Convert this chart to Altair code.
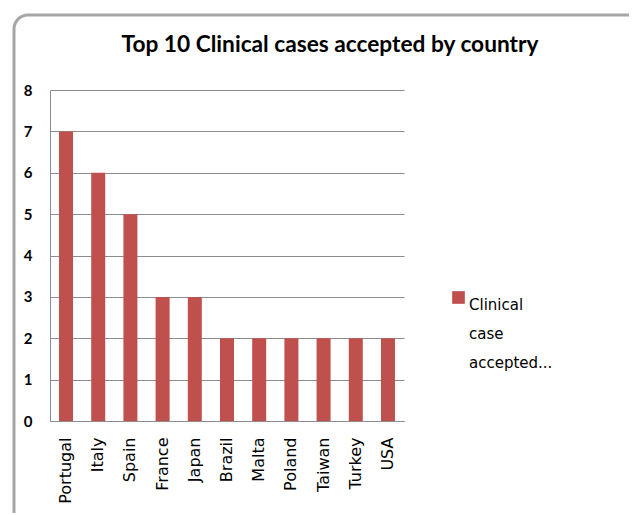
import altair as alt
import pandas as pd

countries = ["Portugal", "Italy", "Spain", "France", "Japan", "Brazil",
             "Malta", "Poland", "Taiwan", "Turkey", "USA"]
cases = [7, 6, 5, 3, 3, 2, 2, 2, 2, 2, 2]
series_name = "Clinical case accepted"
title_text = "Top 10 Clinical cases accepted by country"
y_ticks = [0, 1, 2, 3, 4, 5, 6, 7, 8]

df = pd.DataFrame({"country": countries, "cases": cases, "series": series_name})

frame = alt.Chart(pd.DataFrame({"k": [0]})).mark_rect(
    fill=None, stroke="#A6A6A6", strokeWidth=3, cornerRadius=14, clip=False
).encode(
    x=alt.value(-36), x2=alt.value(600),
    y=alt.value(-75), y2=alt.value(440),
)

bars = alt.Chart(df).mark_bar(color="#C0504D").encode(
    x=alt.X("country:N", sort=countries,
            scale=alt.Scale(paddingInner=0.565, paddingOuter=0.28),
            axis=alt.Axis(title=None, labelAngle=-90, labelAlign="right",
                          labelBaseline="middle", labelPadding=16, ticks=False,
                          domainColor="#8C8C8C", labelFont="DejaVu Sans",
                          labelFontSize=16, labelColor="#000000")),
    y=alt.Y("cases:Q", scale=alt.Scale(domain=[0, 8], nice=False),
            axis=alt.Axis(title=None, values=y_ticks, ticks=False,
                          labelPadding=18, grid=True, gridColor="#8C8C8C",
                          domainColor="#8C8C8C", labelFont="Lato",
                          labelFontWeight="bold", labelFontSize=15,
                          labelColor="#000000")),
    color=alt.Color("series:N", scale=alt.Scale(range=["#C0504D"]),
                    legend=alt.Legend(title=None, orient="none",
                                      legendX=401, legendY=200,
                                      symbolType="square", symbolSize=160,
                                      symbolStrokeWidth=0,
                                      labelExpr="['Clinical','case','accepted...']",
                                      labelFont="DejaVu Sans", labelFontSize=15,
                                      labelColor="#000000", labelBaseline="top",
                                      labelOffset=3)),
)

chart = alt.layer(frame, bars).properties(
    width=354, height=331,
    title=alt.TitleParams(title_text, font="Lato", fontSize=22.7, fontWeight="bold",
                          color="#000000", anchor="middle", dx=103, offset=-43.5,
                          frame="group"),
    padding={"left": 42, "top": 82, "right": 225, "bottom": 92},
    autosize=alt.AutoSizeParams(type="none"),
).configure(style={"guide-label": {"lineHeight": 29}}).configure_view(stroke=None)

chart.save("out.html", embed_options={"renderer": "svg", "actions": False})
